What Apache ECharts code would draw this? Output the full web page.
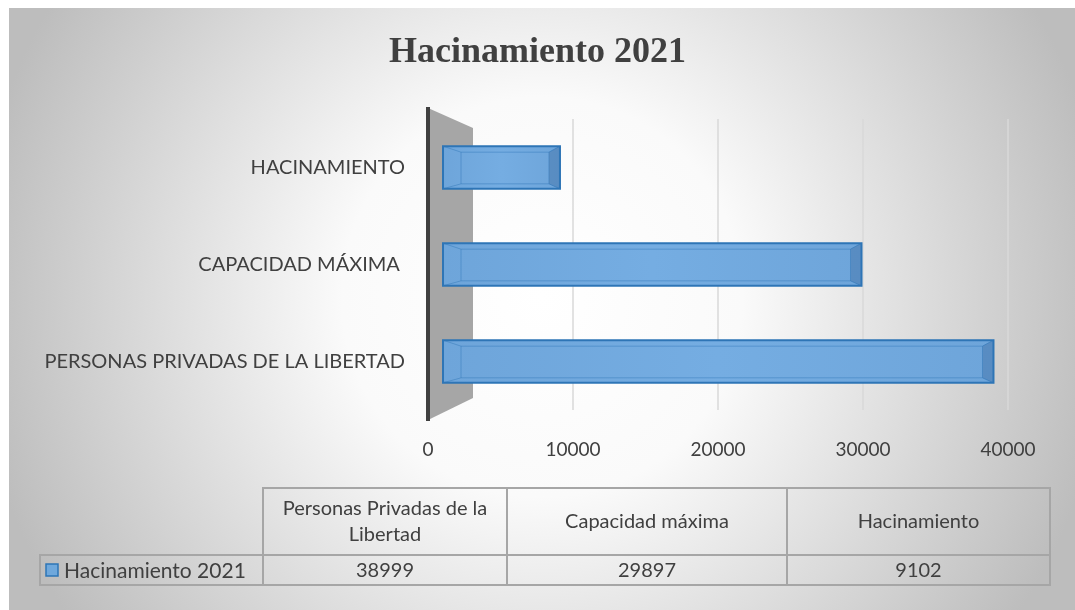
<!DOCTYPE html>
<html>
<head>
<meta charset="utf-8">
<script src="https://cdn.jsdelivr.net/npm/echarts@6/dist/echarts.min.js"></script>
<style>
html,body{margin:0;padding:0;background:#fff;}
#c{width:1075px;height:610px;}
</style>
</head>
<body>
<div id="c"></div>
<script>
// ---- data ----
var titleText = 'Hacinamiento 2021';
var seriesName = 'Hacinamiento 2021';
var categories = ['PERSONAS PRIVADAS DE LA LIBERTAD', 'CAPACIDAD MÁXIMA ', 'HACINAMIENTO'];
var values = [38999, 29897, 9102];
var tableHeaders = ['Personas Privadas de la\nLibertad', 'Capacidad máxima', 'Hacinamiento'];
var axisTicks = [0, 10000, 20000, 30000, 40000];

var chart = echarts.init(document.getElementById('c'));
var FONT = 'Lato, "Open Sans", sans-serif';

// data table layout
var colEdges = [40, 263, 507, 787, 1050];
var rowEdges = [488, 555, 585];
var graphics = [];
// background
graphics.push({
  type: 'rect', z: -10, silent: true,
  shape: {x: 9, y: 8, width: 1066, height: 602},
  style: {fill: {type: 'radial', x: 0.5, y: 0.48, r: 0.95,
    colorStops: [{offset: 0, color: '#ffffff'}, {offset: 0.35, color: '#fafafa'}, {offset: 1, color: '#bdbdbd'}]}}
});
// back wall and axis line
graphics.push({
  type: 'polygon', z: 1, silent: true,
  shape: {points: [[428, 108], [473, 128], [473, 398], [428, 420]]},
  style: {fill: '#a6a6a6'}
});
graphics.push({
  type: 'line', z: 2, silent: true,
  shape: {x1: 428, y1: 107, x2: 428, y2: 421},
  style: {stroke: '#404040', lineWidth: 4}
});
// table borders
var bc = '#a6a6a6';
graphics.push({type: 'polyline', silent: true, shape: {points: [[colEdges[1], rowEdges[1]], [colEdges[1], rowEdges[0]], [colEdges[4], rowEdges[0]], [colEdges[4], rowEdges[2]], [colEdges[0], rowEdges[2]], [colEdges[0], rowEdges[1]], [colEdges[4], rowEdges[1]]]}, style: {stroke: bc, lineWidth: 2, fill: null}});
for (var i = 1; i < 4; i++) {
  graphics.push({type: 'line', silent: true, shape: {x1: colEdges[i], y1: rowEdges[0], x2: colEdges[i], y2: rowEdges[2]}, style: {stroke: bc, lineWidth: 2}});
}
for (var j = 0; j < 3; j++) {
  var cx = (colEdges[j + 1] + colEdges[j + 2]) / 2;
  graphics.push({type: 'text', silent: true, style: {text: tableHeaders[j], x: cx, y: (rowEdges[0] + rowEdges[1]) / 2, textAlign: 'center', textVerticalAlign: 'middle', fontSize: 20, lineHeight: 26, fontFamily: FONT, fill: '#404040'}});
  graphics.push({type: 'text', silent: true, style: {text: String(values[j]), x: cx, y: (rowEdges[1] + rowEdges[2]) / 2 + 1, textAlign: 'center', textVerticalAlign: 'middle', fontSize: 20, fontFamily: FONT, fill: '#404040'}});
}
graphics.push({type: 'rect', silent: true, shape: {x: 46, y: 564, width: 12, height: 12}, style: {fill: '#6fa8dc', stroke: '#2e75b6', lineWidth: 1.5}});
graphics.push({type: 'text', silent: true, style: {text: seriesName, x: 64, y: 571, textAlign: 'left', textVerticalAlign: 'middle', fontSize: 21, fontFamily: FONT, fill: '#404040'}});

var seriesData = values.map(function (v, i) { return [v, i]; });

var option = {
  backgroundColor: '#ffffff',
  animation: false,
  title: {
    text: titleText, left: 'center', top: 30,
    textStyle: {fontFamily: '"Liberation Serif", "Times New Roman", serif', fontWeight: 'bold', fontSize: 36, color: '#404040'}
  },
  grid: {left: 428, right: 67, top: 119, bottom: 200},
  xAxis: {
    type: 'value', min: axisTicks[0], max: axisTicks[axisTicks.length - 1], interval: axisTicks[1] - axisTicks[0],
    axisLine: {show: false}, axisTick: {show: false},
    axisLabel: {margin: 30, fontSize: 19, color: '#404040', fontFamily: FONT, formatter: function (v) { return String(v); }},
    splitLine: {lineStyle: {color: '#d9d9d9', width: 1.5}}
  },
  yAxis: {
    type: 'category', data: categories,
    axisLine: {show: false}, axisTick: {show: false},
    axisLabel: {margin: 23, fontSize: 20, color: '#404040', fontFamily: FONT}
  },
  graphic: graphics,
  series: [{
    type: 'custom', name: seriesName, z: 5,
    encode: {x: 0, y: 1},
    data: seriesData,
    renderItem: function (params, api) {
      var end = api.coord([api.value(0), api.value(1)]);
      var start = api.coord([0, api.value(1)]);
      var h = api.size([0, 1])[1] * 0.44;
      var x0 = start[0] + 15, x1 = end[0];
      var y0 = end[1] - h / 2, y1 = end[1] + h / 2;
      var bx0 = x0 + 18, bx1 = x1 - 11, by0 = y0 + 6, by1 = y1 - 5;
      var edge = '#2e75b6';
      return {
        type: 'group',
        children: [
          {type: 'rect', shape: {x: x0, y: y0, width: x1 - x0, height: y1 - y0},
            style: {fill: {type: 'linear', x: 0, y: 0, x2: 1, y2: 0, colorStops: [{offset: 0, color: '#6ea5da'}, {offset: 0.5, color: '#75ade2'}, {offset: 1, color: '#6ea5da'}]}}},
          {type: 'polygon', shape: {points: [[bx1, by0], [x1, y0], [x1, y1], [bx1, by1]]},
            style: {fill: 'rgba(50,95,150,0.35)'}},
          {type: 'rect', shape: {x: bx0, y: by0, width: bx1 - bx0, height: by1 - by0},
            style: {fill: null, stroke: 'rgba(46,117,182,0.45)', lineWidth: 1}},
          {type: 'line', shape: {x1: x0, y1: y0, x2: bx0, y2: by0}, style: {stroke: 'rgba(46,117,182,0.45)', lineWidth: 1}},
          {type: 'line', shape: {x1: x0, y1: y1, x2: bx0, y2: by1}, style: {stroke: 'rgba(46,117,182,0.45)', lineWidth: 1}},
          {type: 'line', shape: {x1: x1, y1: y0, x2: bx1, y2: by0}, style: {stroke: 'rgba(46,117,182,0.6)', lineWidth: 1}},
          {type: 'line', shape: {x1: x1, y1: y1, x2: bx1, y2: by1}, style: {stroke: 'rgba(46,117,182,0.6)', lineWidth: 1}},
          {type: 'rect', shape: {x: x0, y: y0, width: x1 - x0, height: y1 - y0},
            style: {fill: null, stroke: edge, lineWidth: 2}}
        ]
      };
    }
  }]
};
chart.setOption(option);
</script>
</body>
</html>
